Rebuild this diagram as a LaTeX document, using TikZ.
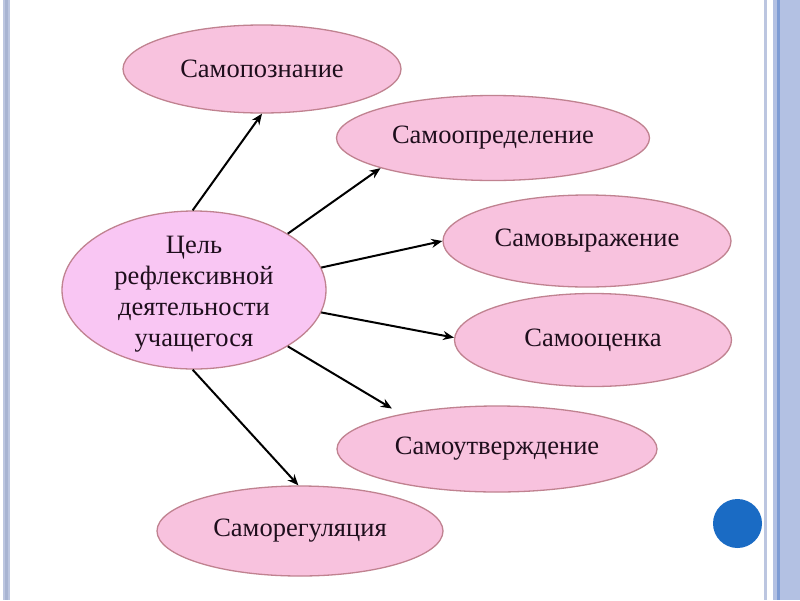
\documentclass[tikz,border=0pt]{standalone}
\usepackage{fontspec}
\setmainfont{Liberation Serif}
\usetikzlibrary{shapes.geometric,arrows.meta}
\definecolor{petal}{HTML}{F8C2DE}
\definecolor{core}{HTML}{F9C6F3}
\definecolor{rim}{HTML}{C08290}
\definecolor{ink}{HTML}{1E0E1C}
\definecolor{stripe}{HTML}{BCC6E0}
\definecolor{stripedark}{HTML}{A8B4D2}
\definecolor{band}{HTML}{B3C1E3}
\definecolor{banddark}{HTML}{7E9CD4}
\definecolor{dot}{HTML}{1A6BC4}
\begin{document}
\begin{tikzpicture}[x=1pt,y=-1pt,
  petalnode/.style={ellipse, draw=rim, line width=1.3pt, fill=petal, text=ink,
    font=\fontsize{26.5}{31}\selectfont, inner sep=0pt},
  corenode/.style={petalnode, fill=core},
  coretext/.style={text=ink, font=\fontsize{26.5}{31}\selectfont, align=center, inner sep=0pt},
  link/.style={-{Stealth[length=11pt,width=9pt]}, line width=2pt, black}]
\useasboundingbox (0,0) rectangle (800,600);
\fill[white] (0,0) rectangle (800,600);
% frame stripes
\fill[stripe] (3,0) rectangle (10,600);
\fill[stripedark] (5,0) rectangle (8,600);
\fill[stripe] (764,0) rectangle (767,600);
\fill[band] (773,0) rectangle (800,600);
\fill[banddark] (777,0) rectangle (780,600);
% blue dot
\fill[dot] (737.5,523.5) circle (24.5);
% nodes
\node[corenode, minimum width=264pt, minimum height=158pt] (c) at (194,290) {};
\node[coretext] (ctext) at (194,294) {Цель\\рефлексивной\\деятельности\\учащегося};
\node[petalnode, minimum width=278pt, minimum height=88pt] (t1) at (262,69) {Самопознание};
\node[petalnode, minimum width=313pt, minimum height=85pt] (t2) at (493,138) {Самоопределение};
\node[petalnode, minimum width=288pt, minimum height=92pt] (t3) at (587,241) {Самовыражение};
\node[petalnode, minimum width=277pt, minimum height=93pt] (t4) at (593,340) {Самооценка};
\node[petalnode, minimum width=320pt, minimum height=86pt] (t5) at (497,449) {Самоутверждение};
\node[petalnode, minimum width=286pt, minimum height=90pt] (t6) at (300,531) {Саморегуляция};
% connectors
\draw[link] (c.91) -- (t1.270);
\draw[link] (c.31) -- (t2.195);
\draw[link] (c.10) -- (t3.180);
\draw[link] (c.-10) -- (t4.179);
\draw[link] (c.-31) -- ([shift={(-2,-7)}]t5.162);
\draw[link] (c.269) -- (t6.92);
\end{tikzpicture}
\end{document}
